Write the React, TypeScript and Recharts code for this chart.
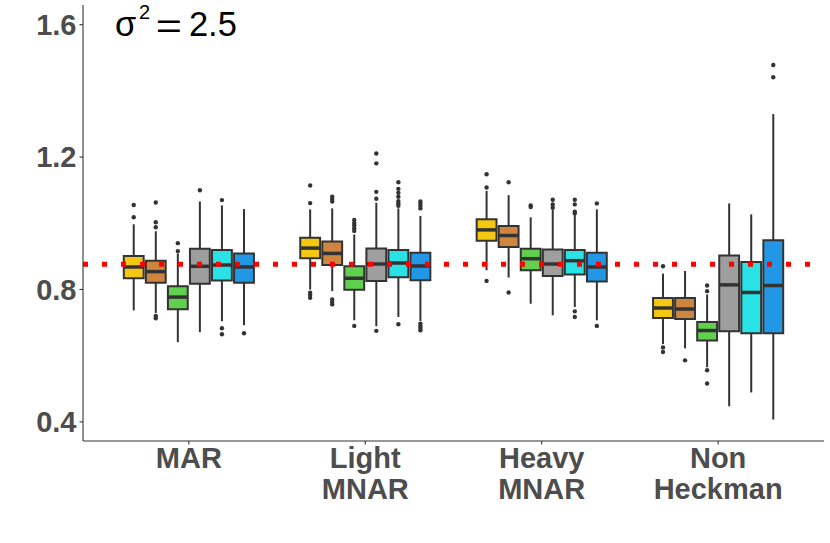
import React from "react";
import {
  ComposedChart,
  XAxis,
  YAxis,
  Scatter,
  ReferenceArea,
  ReferenceLine,
  ReferenceDot,
} from "recharts";

// ---------- data ----------
const categories = ["MAR", "Light\nMNAR", "Heavy\nMNAR", "Non\nHeckman"];
const methods = ["yellow", "orange", "green", "gray", "cyan", "blue"];
const methodColors = ["#F5C710", "#CD853F", "#61D04F", "#9E9E9E", "#28E2E5", "#2297E6"];

// [category][method]
const lowerWhisker = [
  [0.737, 0.729, 0.641, 0.671, 0.704, 0.692],
  [0.8, 0.795, 0.707, 0.689, 0.717, 0.705],
  [0.858, 0.836, 0.757, 0.722, 0.747, 0.707],
  [0.635, 0.622, 0.565, 0.447, 0.489, 0.407],
];
const q1 = [
  [0.834, 0.82, 0.74, 0.817, 0.827, 0.82],
  [0.894, 0.874, 0.799, 0.826, 0.837, 0.828],
  [0.947, 0.928, 0.858, 0.841, 0.845, 0.824],
  [0.714, 0.711, 0.646, 0.674, 0.668, 0.668],
];
const median = [
  [0.868, 0.854, 0.777, 0.87, 0.874, 0.868],
  [0.925, 0.909, 0.834, 0.877, 0.88, 0.871],
  [0.98, 0.963, 0.893, 0.877, 0.887, 0.868],
  [0.744, 0.741, 0.676, 0.814, 0.791, 0.812],
];
const q3 = [
  [0.901, 0.887, 0.81, 0.923, 0.919, 0.909],
  [0.956, 0.945, 0.87, 0.924, 0.919, 0.911],
  [1.012, 0.992, 0.923, 0.921, 0.919, 0.911],
  [0.774, 0.774, 0.702, 0.903, 0.883, 0.949],
];
const upperWhisker = [
  [0.997, 0.976, 0.909, 1.066, 1.054, 1.043],
  [1.042, 1.045, 0.966, 1.062, 1.045, 1.022],
  [1.098, 1.085, 1.018, 1.04, 1.025, 1.042],
  [0.848, 0.856, 0.785, 1.06, 1.027, 1.33],
];
const outlierValues = [
  [
    [1.055, 1.018],
    [1.063, 1.003, 0.988, 0.72, 0.713],
    [0.94, 0.916],
    [1.1],
    [1.07, 0.683, 0.665],
    [0.668],
  ],
  [
    [1.114, 1.061, 0.79, 0.783, 0.775],
    [1.08, 1.073, 1.066, 0.77, 0.762, 0.755],
    [1.01, 1.001, 0.994, 0.985, 0.977, 0.69],
    [1.211, 1.181, 1.095, 1.074, 0.675],
    [1.124, 1.104, 1.092, 1.08, 1.067, 1.06, 1.053, 0.695],
    [1.066, 1.059, 1.052, 1.045, 0.697, 0.69, 0.684, 0.677],
  ],
  [
    [1.148, 1.108, 0.826],
    [1.124, 0.791],
    [1.054, 1.049],
    [1.071, 1.057, 1.047],
    [1.071, 1.057, 1.035, 1.03, 0.734, 0.717],
    [1.06, 0.69],
  ],
  [
    [0.87, 0.625, 0.611],
    [0.586],
    [0.812, 0.795, 0.556, 0.516],
    [],
    [],
    [1.478, 1.441],
  ],
];
const referenceValue = 0.876;
const yTicks = [0.4, 0.8, 1.2, 1.6];
const xTicks = [1, 2, 3, 4];
const annotationPos = { x: 0.581, y: 1.6 };

// ---------- layout helpers ----------
const DODGE = 0.75 / methods.length;
const HALF_BOX = (DODGE * 0.9) / 2;
const boxCenter = (c: number, m: number) => c + 1 + (m - (methods.length - 1) / 2) * DODGE;

const outlierData: { x: number; y: number }[] = [];
outlierValues.forEach((cat, c) =>
  cat.forEach((vals, m) => vals.forEach((v) => outlierData.push({ x: boxCenter(c, m), y: v })))
);

const FONT = "'Liberation Sans', Arial, Helvetica, sans-serif";
const TEXT_GREY = "#4D4D4D";
const LINE = "#333333";

const XTick = (props: any) => {
  const { x, y, payload } = props;
  const label = categories[Math.round(payload.value) - 1] || "";
  const lines = label.split("\n");
  return (
    <text
      x={x}
      y={y}
      textAnchor="middle"
      fontFamily={FONT}
      fontWeight={700}
      fontSize={29}
      fill={TEXT_GREY}
    >
      {lines.map((l, i) => (
        <tspan key={i} x={x} dy={i === 0 ? 21.6 : 31}>
          {l}
        </tspan>
      ))}
    </text>
  );
};

const Annotation = (props: any) => {
  const { cx, cy } = props;
  if (cx == null || cy == null) return null;
  return (
    <g fontFamily={FONT} fill="#000">
      <text x={cx} y={cy + 11.3} fontSize={34.5}>σ</text>
      <text x={cx + 24} y={cy - 5.7} fontSize={20}>2</text>
      <text transform={`translate(${cx + 40.8},${cy + 13.3}) scale(1.3,1)`} x={0} y={0} fontSize={34.5}>
        =
      </text>
      <text x={cx + 74} y={cy + 11.3} fontSize={34.5}>2.5</text>
    </g>
  );
};

export default function App() {
  const boxes: React.ReactNode[] = [];
  const whiskers: React.ReactNode[] = [];
  const medians: React.ReactNode[] = [];
  categories.forEach((_, c) => {
    methods.forEach((_, m) => {
      const xc = boxCenter(c, m);
      const x1 = xc - HALF_BOX;
      const x2 = xc + HALF_BOX;
      whiskers.push(
        <ReferenceLine
          key={`wu-${c}-${m}`}
          segment={[
            { x: xc, y: q3[c][m] },
            { x: xc, y: upperWhisker[c][m] },
          ]}
          stroke={LINE}
          strokeWidth={2}
        />,
        <ReferenceLine
          key={`wl-${c}-${m}`}
          segment={[
            { x: xc, y: lowerWhisker[c][m] },
            { x: xc, y: q1[c][m] },
          ]}
          stroke={LINE}
          strokeWidth={2}
        />
      );
      boxes.push(
        <ReferenceArea
          key={`b-${c}-${m}`}
          x1={x1}
          x2={x2}
          y1={q1[c][m]}
          y2={q3[c][m]}
          fill={methodColors[m]}
          fillOpacity={1}
          stroke={LINE}
          strokeWidth={2}
        />
      );
      medians.push(
        <ReferenceLine
          key={`md-${c}-${m}`}
          segment={[
            { x: x1, y: median[c][m] },
            { x: x2, y: median[c][m] },
          ]}
          stroke={LINE}
          strokeWidth={3.5}
        />
      );
    });
  });

  return (
    <div style={{ position: "absolute", left: 0, top: 0, width: 830, height: 543, background: "#fff" }}>
      <ComposedChart
        width={830}
        height={543}
        margin={{ top: 5, right: 6, bottom: 0, left: 0 }}
        data={outlierData}
      >
        <XAxis
          type="number"
          dataKey="x"
          domain={[0.4, 4.6]}
          ticks={xTicks}
          allowDataOverflow
          interval={0}
          height={102}
          tick={<XTick />}
          tickSize={3.5}
          tickMargin={2}
          axisLine={{ stroke: LINE, strokeWidth: 1.1 }}
          tickLine={{ stroke: LINE, strokeWidth: 1.1 }}
        />
        <YAxis
          type="number"
          dataKey="y"
          domain={[0.3423, 1.6594]}
          ticks={yTicks}
          allowDataOverflow
          interval={0}
          width={83}
          tickFormatter={(v: number) => v.toFixed(1)}
          tick={{ fontSize: 29, fontWeight: 700, fill: TEXT_GREY, fontFamily: FONT }}
          tickSize={3.5}
          tickMargin={3}
          axisLine={{ stroke: LINE, strokeWidth: 1.1 }}
          tickLine={{ stroke: LINE, strokeWidth: 1.1 }}
        />
        {whiskers}
        {boxes}
        {medians}
        <ReferenceLine
          y={referenceValue}
          stroke="#FF0000"
          strokeWidth={5}
          strokeDasharray="5 14"
        />
        <Scatter
          data={outlierData}
          dataKey="y"
          isAnimationActive={false}
          shape={(p: any) => <circle cx={p.cx} cy={p.cy} r={2.2} fill={LINE} />}
        />
        <ReferenceDot
          x={annotationPos.x}
          y={annotationPos.y}
          r={0}
          shape={(p: any) => <Annotation {...p} />}
        />
      </ComposedChart>
    </div>
  );
}
